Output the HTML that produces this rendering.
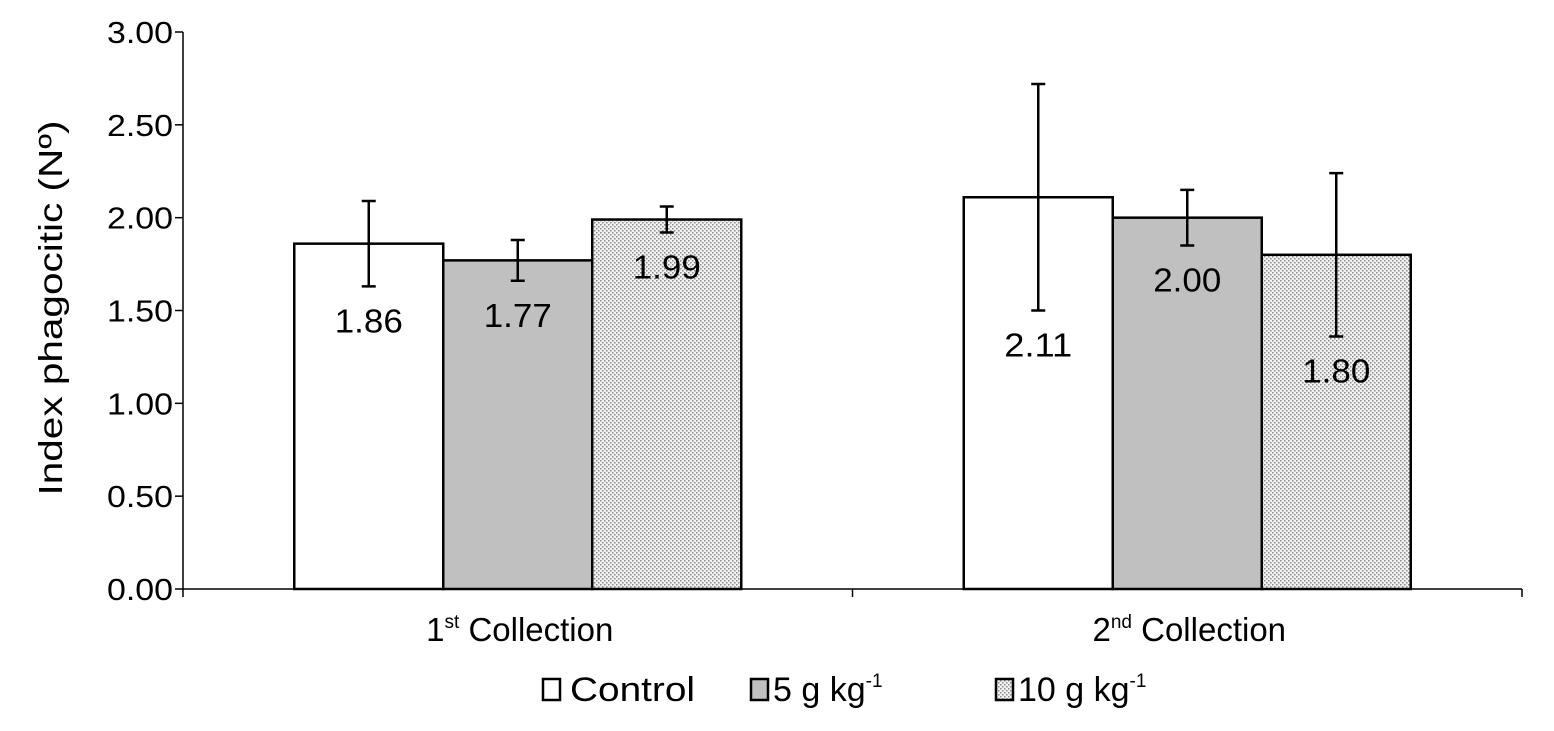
<!DOCTYPE html>
<html><head><meta charset="utf-8"><style>
body{margin:0;background:#fff;}
svg text{font-family:"Liberation Sans",Arial,sans-serif;fill:#000;}
</style></head><body>
<svg id="chart" width="1554" height="726" viewBox="0 0 1554 726" xmlns="http://www.w3.org/2000/svg">
<defs>
<pattern id="dots" width="4" height="4" patternUnits="userSpaceOnUse">
<rect width="4" height="4" fill="#f2f2f2"/>
<rect x="0" y="0" width="1.5" height="1.5" fill="#8a8a8a"/>
<rect x="2" y="2" width="1.5" height="1.5" fill="#8a8a8a"/>
</pattern>
</defs>
<g id="plot"></g>
<text transform="translate(62,308) rotate(-90)" text-anchor="middle" font-size="33" textLength="375" lengthAdjust="spacingAndGlyphs">Index phagocitic (Nº)</text>
<g>
<g><rect x="543" y="679" width="17" height="21" fill="#fff" stroke="#000" stroke-width="2.5"/><text x="570" y="701" font-size="34" textLength="125" lengthAdjust="spacingAndGlyphs">Control</text></g>
<g><rect x="751" y="679" width="17" height="21" fill="#c0c0c0" stroke="#000" stroke-width="2.5"/><text x="773" y="701" font-size="34">5 g kg<tspan font-size="19" dy="-14">-1</tspan></text></g>
<g><rect x="996" y="679" width="17" height="21" fill="url(#dots)" stroke="#000" stroke-width="2.5"/><text x="1018" y="701" font-size="34">10 g kg<tspan font-size="19" dy="-14">-1</tspan></text></g>
</g>
</svg>
<script>
const categories = ["1st", "2nd"];
const seriesNames = ["Control", "5 g kg-1", "10 g kg-1"];
const control = [1.86, 2.11];
const g5 = [1.77, 2.00];
const g10 = [1.99, 1.80];
const errControl = [0.23, 0.61];
const errG5 = [0.11, 0.15];
const errG10 = [0.07, 0.44];
const yTicks = [0, 0.5, 1.0, 1.5, 2.0, 2.5, 3.0];

const NS = "http://www.w3.org/2000/svg";
const plot = document.getElementById('plot');
const x0 = 183, x1 = 1522, yTop = 32, yBot = 589, yMax = 3;
const y = v => yBot - (v / yMax) * (yBot - yTop);
const catW = (x1 - x0) / categories.length;
const barW = 149;
function mk(tag, attrs){const e=document.createElementNS(NS,tag);for(const k in attrs)e.setAttribute(k,attrs[k]);plot.appendChild(e);return e;}

const series = [control, g5, g10];
const errs = [errControl, errG5, errG10];
const fills = ["#fff", "#c0c0c0", "url(#dots)"];
categories.forEach((c, ci) => {
  const cx = x0 + catW * (ci + 0.5);
  const start = cx - barW * 1.5;
  series.forEach((s, si) => {
    const bx = start + si * barW;
    const r = mk('rect', {x: bx, y: y(s[ci]), width: barW, height: yBot - y(s[ci]), fill: fills[si], stroke: '#000', 'stroke-width': 2.5});
    
    
    const mx = bx + barW / 2, hi = y(s[ci] + errs[si][ci]), lo = y(s[ci] - errs[si][ci]);
    const eb = mk('path', {d: `M${mx},${hi}V${lo}M${mx-7},${hi}H${mx+7}M${mx-7},${lo}H${mx+7}`, stroke: '#000', 'stroke-width': 2.5, fill: 'none'});
    
    
    const t = mk('text', {x: mx, y: lo + 46, 'text-anchor': 'middle', 'font-size': 33, textLength: 68, lengthAdjust: 'spacingAndGlyphs'});
    t.textContent = s[ci].toFixed(2);
    
    
  });
  const lab = mk('text', {x: cx + 2, y: 641, 'text-anchor': 'middle', 'font-size': 33});
  lab.innerHTML = c.replace(/(\d)(\w+)/, '$1<tspan font-size="19" dy="-13">$2</tspan><tspan dy="13">  </tspan>') + ' Collection';
  
  
});
const ax = mk('path', {d: `M${x0},${yTop}V${yBot}H${x1}`, stroke: '#000', 'stroke-width': 1.5, fill: 'none'});


for (let i = 0; i <= categories.length; i++) {
  const tx = x0 + catW * i;
  const tk = mk('line', {x1: tx, x2: tx, y1: yBot, y2: yBot + 8, stroke: '#000', 'stroke-width': 1.5});
  
  
}
yTicks.forEach(v => {
  const tk = mk('line', {x1: x0 - 8, x2: x0, y1: y(v), y2: y(v), stroke: '#000', 'stroke-width': 1.5});
  
  
  const t = mk('text', {x: x0 - 10, y: y(v) + 11, 'text-anchor': 'end', 'font-size': 31, textLength: 66, lengthAdjust: 'spacingAndGlyphs'});
  t.textContent = v.toFixed(2);
  
  
});
</script>
</body></html>
